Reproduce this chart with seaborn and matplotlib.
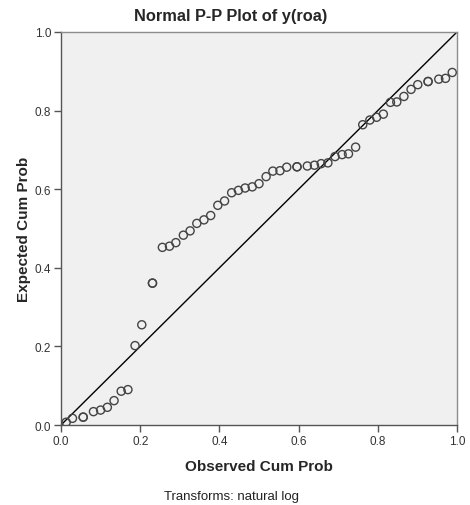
import numpy as np
import pandas as pd
import seaborn as sns
import matplotlib.pyplot as plt

# observed vs expected cumulative probabilities
observed = [0.013, 0.029, 0.056, 0.056, 0.082, 0.100, 0.117, 0.134, 0.152, 0.169,
            0.187, 0.204, 0.231, 0.231, 0.256, 0.274, 0.290, 0.309, 0.326, 0.343,
            0.361, 0.378, 0.396, 0.413, 0.431, 0.448, 0.465, 0.483, 0.500, 0.518,
            0.535, 0.553, 0.570, 0.596, 0.596, 0.622, 0.640, 0.657, 0.674, 0.692,
            0.710, 0.726, 0.744, 0.762, 0.780, 0.797, 0.814, 0.832, 0.848, 0.866,
            0.884, 0.901, 0.927, 0.927, 0.954, 0.971, 0.988]
expected = [0.007, 0.017, 0.020, 0.020, 0.034, 0.038, 0.045, 0.062, 0.086, 0.090,
            0.202, 0.255, 0.361, 0.361, 0.452, 0.455, 0.464, 0.483, 0.494, 0.513,
            0.522, 0.533, 0.559, 0.570, 0.591, 0.597, 0.603, 0.606, 0.614, 0.632,
            0.646, 0.647, 0.656, 0.657, 0.657, 0.659, 0.661, 0.665, 0.667, 0.683,
            0.688, 0.690, 0.707, 0.764, 0.776, 0.783, 0.791, 0.821, 0.822, 0.836,
            0.854, 0.866, 0.874, 0.874, 0.880, 0.882, 0.897]
ticks = [0.0, 0.2, 0.4, 0.6, 0.8, 1.0]

df = pd.DataFrame({"observed": observed, "expected": expected})

sns.set_style("white")
plt.rcParams['font.family'] = ['Liberation Sans', 'DejaVu Sans']

fig = plt.figure(figsize=(4.7, 5.06), dpi=100)
ax = fig.add_axes([0.1298, 0.1581, 0.8425, 0.7767])
ax.set_facecolor("#f0f0f0")

# reference diagonal
ax.plot([0, 1], [0, 1], color="black", lw=1.0, zorder=2)

sns.scatterplot(data=df, x="observed", y="expected", ax=ax, s=34,
                facecolor="none", edgecolor="#444444", linewidth=1.0, zorder=3)

ax.set_xlim(0, 1)
ax.set_ylim(0, 1)
ax.set_xticks(ticks)
ax.set_yticks(ticks)
ax.set_xticklabels([f"{t:.1f}" for t in ticks])
ax.set_yticklabels([f"{t:.1f}" for t in ticks])
ax.tick_params(axis="both", direction="out", length=5, width=1, color="#555555",
               labelsize=8.5, labelcolor="#333333", pad=2)
ax.tick_params(top=False, right=False, bottom=True, left=True)

for s in ax.spines.values():
    s.set_color("#8c8c8c")
    s.set_linewidth(1.0)
ax.spines["left"].set_color("#555555")
ax.spines["bottom"].set_color("#555555")

fig.text(0.49, 0.968, "Normal P-P Plot of y(roa)", ha="center", va="center",
         fontsize=11.8, fontweight="bold")
ax.set_xlabel("Observed Cum Prob", fontsize=11, fontweight="bold", labelpad=9)
ax.set_ylabel("Expected Cum Prob", fontsize=11, fontweight="bold", labelpad=3)

fig.text(0.492, 0.018, "Transforms: natural log", ha="center", va="center",
         fontsize=9.5, color="#222222")

fig.savefig("out.png", dpi=100)
